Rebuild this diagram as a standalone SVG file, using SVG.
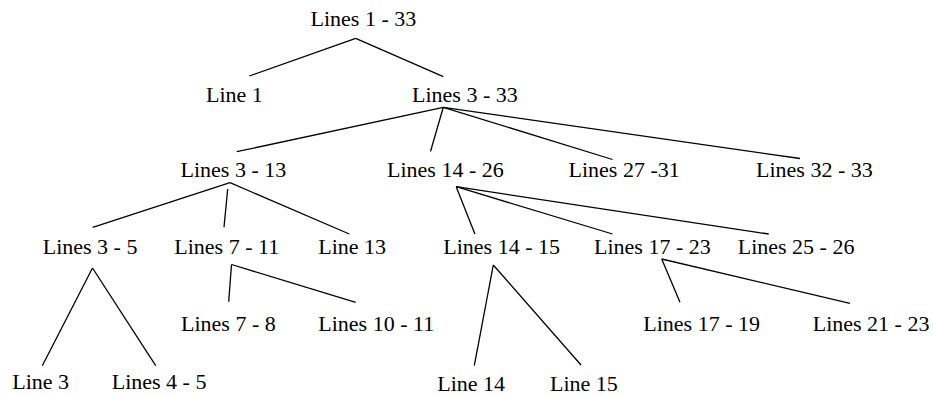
<svg xmlns="http://www.w3.org/2000/svg" width="933" height="396" viewBox="0 0 933 396">
<style>
.t text{font-size:22px;fill:#000}
.e line{stroke:#000;stroke-width:1.3;fill:none}
</style>
<rect width="933" height="396" fill="#fff"/>
<g class="e" id="connectors">
<line x1="355.7" y1="38.3" x2="249.3" y2="76"/>
<line x1="355.7" y1="38.3" x2="443.3" y2="76.7"/>
<line x1="443.3" y1="107.3" x2="236.7" y2="151.7"/>
<line x1="443.3" y1="107.3" x2="430.5" y2="151.5"/>
<line x1="443.3" y1="107.3" x2="612.5" y2="159.5"/>
<line x1="443.3" y1="107.3" x2="800" y2="158.5"/>
<line x1="230" y1="182.7" x2="92.7" y2="227.3"/>
<line x1="227.7" y1="189" x2="224" y2="227.3"/>
<line x1="230" y1="182.7" x2="349.3" y2="234"/>
<line x1="456.2" y1="186.7" x2="474.9" y2="234"/>
<line x1="456.2" y1="186.7" x2="612.5" y2="234"/>
<line x1="456.2" y1="186.7" x2="768.7" y2="234"/>
<line x1="92.5" y1="268" x2="42.3" y2="365.7"/>
<line x1="92.5" y1="268" x2="155.7" y2="365.7"/>
<line x1="231.5" y1="264.5" x2="228.7" y2="301.7"/>
<line x1="231.5" y1="264.5" x2="355.7" y2="302.3"/>
<line x1="493.3" y1="265" x2="474.3" y2="365.7"/>
<line x1="493.3" y1="265" x2="581" y2="365"/>
<line x1="661.7" y1="259" x2="680" y2="302.3"/>
<line x1="661.7" y1="259" x2="850" y2="303.3"/>
</g>
<g class="t" font-family="'Liberation Serif', 'Times New Roman', Times, serif">
<g id="n1_33"><text x="310.5" y="26">Lines 1 - 33</text></g>
<g id="n1"><text x="206" y="102">Line 1</text></g>
<g id="n3_33"><text x="412" y="102">Lines 3 - 33</text></g>
<g id="n3_13"><text x="180.5" y="177">Lines 3 - 13</text></g>
<g id="n14_26"><text x="387" y="177">Lines 14 - 26</text></g>
<g id="n27_31"><text x="568.5" y="177">Lines 27 -31</text></g>
<g id="n32_33"><text x="756" y="177">Lines 32 - 33</text></g>
<g id="n3_5"><text x="42.7" y="254">Lines 3 - 5</text></g>
<g id="n7_11"><text x="174.3" y="254">Lines 7 - 11</text></g>
<g id="n13"><text x="318.3" y="254">Line 13</text></g>
<g id="n14_15"><text x="443.3" y="254">Lines 14 - 15</text></g>
<g id="n17_23"><text x="594" y="254">Lines 17 - 23</text></g>
<g id="n25_26"><text x="737.7" y="254">Lines 25 - 26</text></g>
<g id="n7_8"><text x="181" y="330.5">Lines 7 - 8</text></g>
<g id="n10_11"><text x="318.3" y="330.5">Lines 10 - 11</text></g>
<g id="n17_19"><text x="643.3" y="330.5">Lines 17 - 19</text></g>
<g id="n21_23"><text x="812.7" y="330.5">Lines 21 - 23</text></g>
<g id="n3"><text x="12.3" y="389">Line 3</text></g>
<g id="n4_5"><text x="111.7" y="389">Lines 4 - 5</text></g>
<g id="n14"><text x="437.3" y="391">Line 14</text></g>
<g id="n15"><text x="550" y="391">Line 15</text></g>
</g>
</svg>
